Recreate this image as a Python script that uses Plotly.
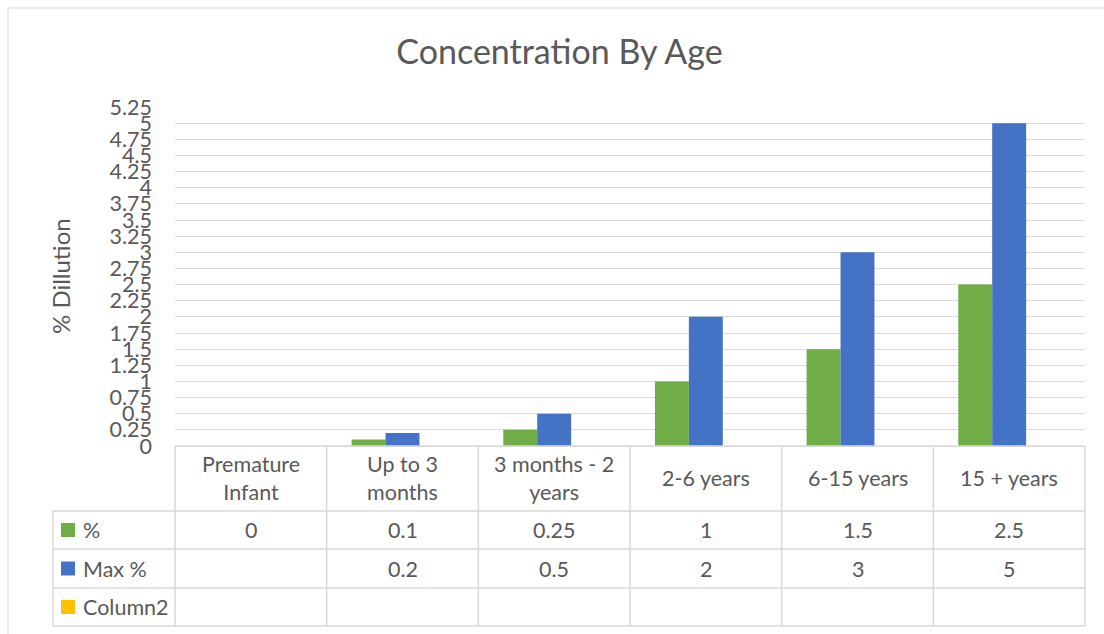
import plotly.graph_objects as go

# ---- data ----
categories = ["Premature<br>Infant", "Up to 3<br>months", "3 months - 2<br>years",
              "2-6 years", "6-15 years", "15 + years"]
pct = [0, 0.1, 0.25, 1, 1.5, 2.5]
max_pct = [None, 0.2, 0.5, 2, 3, 5]
column2 = [None, None, None, None, None, None]
series_names = ["%", "Max %", "Column2"]
y_tick_vals = [0, 0.25, 0.5, 0.75, 1, 1.25, 1.5, 1.75, 2, 2.25, 2.5, 2.75, 3,
               3.25, 3.5, 3.75, 4, 4.25, 4.5, 4.75, 5, 5.25]

# ---- style ----
W, H = 1104, 634
COLORS = ["#70AD47", "#4472C4", "#FFC000"]
TXT = "#595959"
GRID = "#D9D9D9"
FONT = "Lato"


def px(x):
    return x / W


def py(y):
    return 1 - y / H


X0, X1 = 175, 1085       # plot area in pixels
Y_TOP, Y_BOT = 107, 446
LABEL_LEFT = 53
ROWS = [446, 511, 549, 588, 626]  # table row boundaries

fig = go.Figure()
xs = list(range(len(categories)))
for name, vals, col in zip(series_names, [pct, max_pct, column2], COLORS):
    fig.add_trace(go.Bar(x=xs, y=vals, name=name, marker_color=col,
                         marker_line_width=0, showlegend=False))

fig.update_layout(
    template="none",
    width=W, height=H,
    margin=dict(l=0, r=0, t=0, b=0, pad=0, autoexpand=False),
    paper_bgcolor="white", plot_bgcolor="white",
    barmode="group", bargap=50 / 152, bargroupgap=0,
    font=dict(family=FONT, color=TXT, size=21),
    title=dict(text="Concentration By Age", x=559.5 / W, xanchor="center",
               y=py(52), yanchor="middle", yref="container",
               font=dict(family=FONT, size=34, color=TXT)),
    xaxis=dict(domain=[px(X0), px(X1)], range=[-0.5, len(categories) - 0.5],
               showticklabels=False, showgrid=False, zeroline=False,
               showline=False, ticks="", automargin=False),
    yaxis=dict(domain=[py(Y_BOT), py(Y_TOP)], range=[0, 5.25],
               tickvals=y_tick_vals, ticktext=[f"{v:g}" for v in y_tick_vals],
               showgrid=True, gridcolor=GRID, gridwidth=1,
               zeroline=True, zerolinecolor=GRID, zerolinewidth=1,
               showline=False, ticks="", ticklabelstandoff=22, automargin=False,
               tickfont=dict(family=FONT, size=21.5, color=TXT)),
)

shapes = []
annotations = []

# outer chart border
shapes.append(dict(type="rect", xref="paper", yref="paper",
                   x0=px(8), x1=px(W + 10), y0=py(H + 10), y1=py(8),
                   line=dict(color=GRID, width=1), fillcolor="rgba(0,0,0,0)"))

# y axis title
annotations.append(dict(text="% Dillution", xref="paper", yref="paper",
                        x=px(60), y=py(276), textangle=-90, showarrow=False,
                        font=dict(family=FONT, size=24, color=TXT),
                        xanchor="center", yanchor="middle"))

# table lines
n = len(categories)
d0, d1 = px(X0), px(X1)


def cat_edge(i):
    return d0 + i / n * (d1 - d0)


LW = 1.5
for i in range(n + 1):
    shapes.append(dict(type="line", xref="paper", yref="paper",
                       x0=cat_edge(i), x1=cat_edge(i), y0=py(ROWS[0]), y1=py(ROWS[-1]),
                       line=dict(color=GRID, width=LW)))
shapes.append(dict(type="line", xref="paper", yref="paper",
                   x0=px(LABEL_LEFT), x1=px(LABEL_LEFT), y0=py(ROWS[1]), y1=py(ROWS[-1]),
                   line=dict(color=GRID, width=LW)))
shapes.append(dict(type="line", xref="paper", yref="paper",
                   x0=cat_edge(0), x1=cat_edge(n), y0=py(ROWS[0]), y1=py(ROWS[0]),
                   line=dict(color=GRID, width=LW)))
for r in ROWS[1:]:
    shapes.append(dict(type="line", xref="paper", yref="paper",
                       x0=px(LABEL_LEFT), x1=cat_edge(n), y0=py(r), y1=py(r),
                       line=dict(color=GRID, width=LW)))

# header row: category labels
hy = py((ROWS[0] + ROWS[1]) / 2 - 1)
for i, c in enumerate(categories):
    annotations.append(dict(text=c, x=i, xref="x", y=hy, yref="paper",
                            showarrow=False, xanchor="center", yanchor="middle",
                            font=dict(family=FONT, size=21.5, color=TXT)))

# data rows
for r, (name, vals, col) in enumerate(zip(series_names, [pct, max_pct, column2], COLORS)):
    top, bot = ROWS[r + 1], ROWS[r + 2]
    cy = (top + bot) / 2
    shapes.append(dict(type="rect", xref="paper", yref="paper",
                       x0=px(61), x1=px(75), y0=py(cy + 7), y1=py(cy - 7),
                       fillcolor=col, line=dict(width=0)))
    annotations.append(dict(text=name, x=px(81), xref="paper", y=py(cy), yref="paper",
                            showarrow=False, xanchor="left", yanchor="middle",
                            font=dict(family=FONT, size=21.5, color=TXT)))
    for i, v in enumerate(vals):
        if v is None:
            continue
        annotations.append(dict(text=f"{v:g}", x=i, xref="x", y=py(cy), yref="paper",
                                showarrow=False, xanchor="center", yanchor="middle",
                                font=dict(family=FONT, size=21.5, color=TXT)))

fig.update_layout(shapes=shapes, annotations=annotations)
fig.write_html("out.html", config={"displayModeBar": False},
               post_script="document.body.style.margin='0';document.body.style.overflow='hidden';")
